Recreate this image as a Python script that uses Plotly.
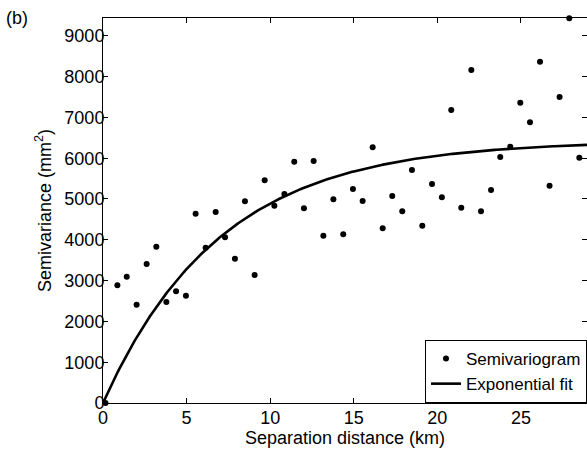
import numpy as np
import plotly.graph_objects as go

# Empirical semivariogram (lag distance km, semivariance mm^2)
lag_km = [0.15, 0.86, 1.42, 2.01, 2.61, 3.19, 3.79, 4.37, 4.96, 5.54, 6.14, 6.74, 7.30, 7.89,
          8.49, 9.07, 9.67, 10.25, 10.85, 11.44, 12.02, 12.60, 13.18, 13.78, 14.37, 14.95,
          15.53, 16.13, 16.73, 17.30, 17.90, 18.48, 19.10, 19.68, 20.27, 20.83, 21.43,
          22.03, 22.61, 23.21, 23.76, 24.36, 24.96, 25.54, 26.14, 26.71, 27.31, 27.89, 28.49]
semivar = [0, 2884, 3096, 2410, 3407, 3832, 2475, 2737, 2630, 4640, 3807, 4681, 4061, 3537,
           4943, 3137, 5458, 4836, 5122, 5915, 4771, 5931, 4101, 4993, 4134, 5245,
           4951, 6267, 4281, 5074, 4698, 5711, 4346, 5368, 5041, 7181, 4787,
           8162, 4698, 5221, 6029, 6282, 7360, 6880, 8365, 5327, 7500, 9428, 6013]

# Exponential model parameters
sill = 6430.0
range_par = 7.0

x_ticks = [0, 5, 10, 15, 20, 25]
y_ticks = [0, 1000, 2000, 3000, 4000, 5000, 6000, 7000, 8000, 9000]

x_max = 28.95
y_max = 9436

h = np.linspace(0, x_max, 300)
fit = sill * (1 - np.exp(-h / range_par))

FONT = "Arial, Liberation Sans, sans-serif"

fig = go.Figure()
fig.add_trace(go.Scatter(
    x=lag_km, y=semivar, mode="markers", name="Semivariogram",
    marker=dict(color="black", size=6, symbol="circle"), cliponaxis=False))
fig.add_trace(go.Scatter(
    x=h, y=fit, mode="lines", name="Exponential fit",
    line=dict(color="black", width=2.6)))
# helper (empty) trace so the right-hand tick axis is drawn
fig.add_trace(go.Scatter(x=[None], y=[None], yaxis="y2", showlegend=False,
                         hoverinfo="skip", mode="markers"))

tickfont = dict(family=FONT, size=18, color="black")

fig.update_layout(
    width=587, height=449,
    margin=dict(l=103, r=0, t=18, b=46),
    paper_bgcolor="white", plot_bgcolor="white",
    showlegend=True,
    xaxis=dict(range=[0, x_max], tickvals=x_ticks, ticktext=[str(v) for v in x_ticks],
               showgrid=False, zeroline=False, showline=True, linecolor="black", linewidth=1,
               mirror="ticks", ticks="inside", ticklen=5, tickwidth=1, tickcolor="black",
               tickfont=tickfont, ticklabelstandoff=-2, automargin=False,
               title=dict(text="Separation distance (km)", font=tickfont, standoff=0)),
    yaxis=dict(range=[0, y_max], tickvals=y_ticks, ticktext=[str(v) for v in y_ticks],
               showgrid=False, zeroline=False, showline=True, linecolor="black", linewidth=1,
               mirror=False, ticks="inside", ticklen=5, tickwidth=1, tickcolor="black",
               tickfont=tickfont, ticklabelstandoff=-6, automargin=False,
               title=dict(text="Semivariance (mm<sup>2</sup>)", font=tickfont, standoff=8)),
    yaxis2=dict(range=[0, y_max], tickvals=y_ticks, overlaying="y", side="right",
                showgrid=False, zeroline=False, showline=False, showticklabels=False,
                ticks="inside", ticklen=5, tickwidth=1, tickcolor="black", automargin=False),
    legend=dict(x=1, y=0, xanchor="right", yanchor="bottom",
                bgcolor="white", bordercolor="black", borderwidth=1,
                font=dict(family=FONT, size=17, color="black"),
                tracegroupgap=0, itemsizing="trace"),
    annotations=[dict(text="(b)", xref="paper", yref="paper", x=-0.205, y=1.0,
                      xanchor="left", yanchor="middle", showarrow=False,
                      font=dict(family=FONT, size=18, color="black"))],
)

fig.write_html("out.html", config={"displayModeBar": False},
               post_script="document.body.style.margin='0';document.body.style.overflow='hidden';")
